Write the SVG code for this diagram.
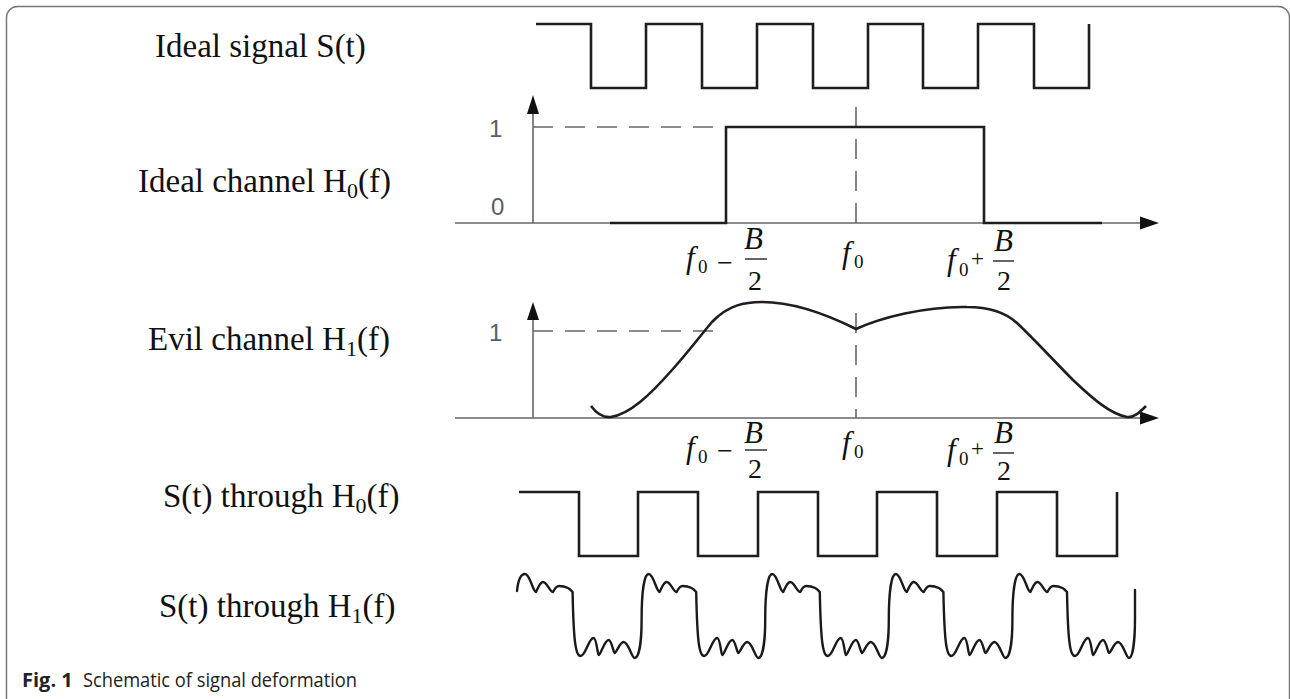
<svg xmlns="http://www.w3.org/2000/svg" width="1290" height="699" viewBox="0 0 1290 699">
<style>
.lbl{font-family:"Liberation Serif","Times New Roman",serif;font-size:33px;fill:#111}
.sub{font-size:22px}
.ax{stroke:#666;stroke-width:1.6;fill:none}
.dash{stroke:#666;stroke-width:1.6;fill:none;stroke-dasharray:20 12}
.sig{stroke:#1e1e1e;stroke-width:2.6;fill:none;stroke-linejoin:miter}
.wave{stroke:#1a1a1a;stroke-width:2.4;fill:none;stroke-linejoin:round;stroke-linecap:round}
.num{font-family:"Liberation Sans",Arial,sans-serif;font-size:24px;fill:#56625e}
.mi{font-family:"Liberation Serif","Times New Roman",serif;font-style:italic;font-size:31px;fill:#111}
.mr{font-family:"Liberation Serif","Times New Roman",serif;font-size:28px;fill:#111}
.ms{font-family:"Liberation Serif","Times New Roman",serif;font-size:19px;fill:#111}
.bar{stroke:#111;stroke-width:1.3}
.arrow{fill:#111}
.cap{font-family:"Open Sans","Liberation Sans",sans-serif;font-size:20px;fill:#222}
</style>
<rect id="frame" x="6.5" y="6.5" width="1283" height="705" rx="11" fill="#fff" stroke="#777" stroke-width="1.5"/>

<g id="labels">
<text id="lbl-ideal-signal" class="lbl" x="155" y="57">Ideal signal S(t)</text>
<text id="lbl-ideal-channel" class="lbl" x="138" y="192">Ideal channel H<tspan class="sub" dy="6">0</tspan><tspan dy="-6">(f)</tspan></text>
<text id="lbl-evil-channel" class="lbl" x="148" y="350">Evil channel H<tspan class="sub" dy="6">1</tspan><tspan dy="-6">(f)</tspan></text>
<text id="lbl-through-h0" class="lbl" x="163" y="507">S(t) through H<tspan class="sub" dy="6">0</tspan><tspan dy="-6">(f)</tspan></text>
<text id="lbl-through-h1" class="lbl" x="159" y="617">S(t) through H<tspan class="sub" dy="6">1</tspan><tspan dy="-6">(f)</tspan></text>
</g>

<g id="ideal-signal">
<path class="sig" d="M 536 24 H 591 V 88 H 646 V 24 H 702 V 88 H 757 V 24 H 813 V 88 H 868 V 24 H 923 V 88 H 978 V 24 H 1034 V 88 H 1089 V 24"/>
</g>

<g id="ideal-channel">
<line class="ax" x1="533" y1="223" x2="533" y2="110"/>
<polygon class="arrow" points="533,95 527,114 539,114"/>
<line class="ax" x1="455" y1="223" x2="1142" y2="223"/>
<polygon class="arrow" points="1159,223 1140,216.5 1140,229.5"/>
<line class="dash" x1="533" y1="127" x2="720" y2="127"/>
<line class="dash" x1="856" y1="107" x2="856" y2="223"/>
<path class="sig" d="M 610 223 H 726 V 127 H 984 V 223 H 1102"/>
<text class="num" x="489" y="137">1</text>
<text class="num" x="491" y="215">0</text>
<text class="mi" x="686" y="268">f</text><text class="ms" x="698" y="273">0</text>
<text class="mr" x="717" y="272">−</text>
<text class="mi" x="744" y="249">B</text>
<line class="bar" x1="745" y1="259" x2="767" y2="259"/>
<text class="mr" x="748" y="290">2</text>
<text class="mi" x="842" y="263">f</text><text class="ms" x="854" y="268">0</text>
<text class="mi" x="947" y="270">f</text><text class="ms" x="959" y="276">0</text>
<text class="mr" x="971" y="266" style="font-size:23px">+</text>
<text class="mi" x="994" y="251">B</text>
<line class="bar" x1="993" y1="261" x2="1014" y2="261"/>
<text class="mr" x="997" y="290">2</text>
</g>

<g id="evil-channel">
<line class="ax" x1="533" y1="418" x2="533" y2="316"/>
<polygon class="arrow" points="533,302 527,320 539,320"/>
<line class="ax" x1="455" y1="418" x2="1142" y2="418"/>
<polygon class="arrow" points="1159,418 1140,411.5 1140,424.5"/>
<line class="dash" x1="533" y1="331" x2="720" y2="331"/>
<line class="dash" x1="856" y1="313" x2="856" y2="418"/>
<path class="sig" stroke-linejoin="round" d="M 591 406 C 597 414, 603 418, 611 417 C 630 414, 650 395, 672 370 C 690 350, 700 336, 712 322 C 728 305, 745 302, 762 302 C 795 302, 830 316, 856 329 C 880 318, 925 306, 967 307 C 990 307, 1005 312, 1017 323 C 1035 340, 1055 362, 1073 380 C 1092 398, 1110 414, 1127 417 C 1134 418, 1140 412, 1146 406"/>
<text class="num" x="489" y="341">1</text>
<text class="mi" x="686" y="458">f</text><text class="ms" x="698" y="463">0</text>
<text class="mr" x="717" y="460">−</text>
<text class="mi" x="744" y="443">B</text>
<line class="bar" x1="745" y1="450" x2="767" y2="450"/>
<text class="mr" x="748" y="478">2</text>
<text class="mi" x="842" y="453">f</text><text class="ms" x="854" y="458">0</text>
<text class="mi" x="947" y="460">f</text><text class="ms" x="959" y="465">0</text>
<text class="mr" x="971" y="456" style="font-size:23px">+</text>
<text class="mi" x="994" y="443">B</text>
<line class="bar" x1="993" y1="453" x2="1014" y2="453"/>
<text class="mr" x="997" y="480">2</text>
</g>

<g id="through-h0">
<path class="sig" d="M 519 492 H 579 V 556 H 638 V 492 H 698 V 556 H 758 V 492 H 818 V 556 H 877 V 492 H 937 V 556 H 997 V 492 H 1057 V 556 H 1117 V 492"/>
</g>

<g id="through-h1">
<path class="wave" d="M 517 591 c 1 -10 3 -17 8 -17 c 5 0 8 18 11 18 c 2 -4 4 -10 7 -10 c 4 0 7 10 10 10 c 2 -4 4 -6 6 -6 c 4 0 7 1 9 2 c 2 1 4.6 4 4.6 4
c 1 50 3 64 8 64 c 5 0 8 -18 13 -18 c 3 0 4 17 5 17 c 2 0 6 -15 10 -15 c 3 0 5 13 6 13 c 2 0 5 -11 9 -11 c 5 0 8 16 11 16 c 5 0 7 -20 7 -38 c 0 -30 3 -46 7 -46 c 5 0 8 18 11 18 c 2 -4 4 -10 7 -10 c 4 0 7 10 10 10 c 2 -4 4 -6 6 -6 c 4 0 7 1 9 2 c 2 1 4.6 4 4.6 4
c 1 50 3 64 8 64 c 5 0 8 -18 13 -18 c 3 0 4 17 5 17 c 2 0 6 -15 10 -15 c 3 0 5 13 6 13 c 2 0 5 -11 9 -11 c 5 0 8 16 11 16 c 5 0 7 -20 7 -38 c 0 -30 3 -46 7 -46 c 5 0 8 18 11 18 c 2 -4 4 -10 7 -10 c 4 0 7 10 10 10 c 2 -4 4 -6 6 -6 c 4 0 7 1 9 2 c 2 1 4.6 4 4.6 4
c 1 50 3 64 8 64 c 5 0 8 -18 13 -18 c 3 0 4 17 5 17 c 2 0 6 -15 10 -15 c 3 0 5 13 6 13 c 2 0 5 -11 9 -11 c 5 0 8 16 11 16 c 5 0 7 -20 7 -38 c 0 -30 3 -46 7 -46 c 5 0 8 18 11 18 c 2 -4 4 -10 7 -10 c 4 0 7 10 10 10 c 2 -4 4 -6 6 -6 c 4 0 7 1 9 2 c 2 1 4.6 4 4.6 4
c 1 50 3 64 8 64 c 5 0 8 -18 13 -18 c 3 0 4 17 5 17 c 2 0 6 -15 10 -15 c 3 0 5 13 6 13 c 2 0 5 -11 9 -11 c 5 0 8 16 11 16 c 5 0 7 -20 7 -38 c 0 -30 3 -46 7 -46 c 5 0 8 18 11 18 c 2 -4 4 -10 7 -10 c 4 0 7 10 10 10 c 2 -4 4 -6 6 -6 c 4 0 7 1 9 2 c 2 1 4.6 4 4.6 4
c 1 50 3 64 8 64 c 5 0 8 -18 13 -18 c 3 0 4 17 5 17 c 2 0 6 -15 10 -15 c 3 0 5 13 6 13 c 2 0 5 -11 9 -11 c 5 0 8 16 11 16 c 4 0 6 -20 6 -40 l 0 -28"/>
</g>

<g id="caption">
<text class="cap" x="22" y="687"><tspan font-weight="bold">Fig. 1</tspan></text>
<text class="cap" x="83" y="687" textLength="274" lengthAdjust="spacingAndGlyphs">Schematic of signal deformation</text>
</g>
</svg>
